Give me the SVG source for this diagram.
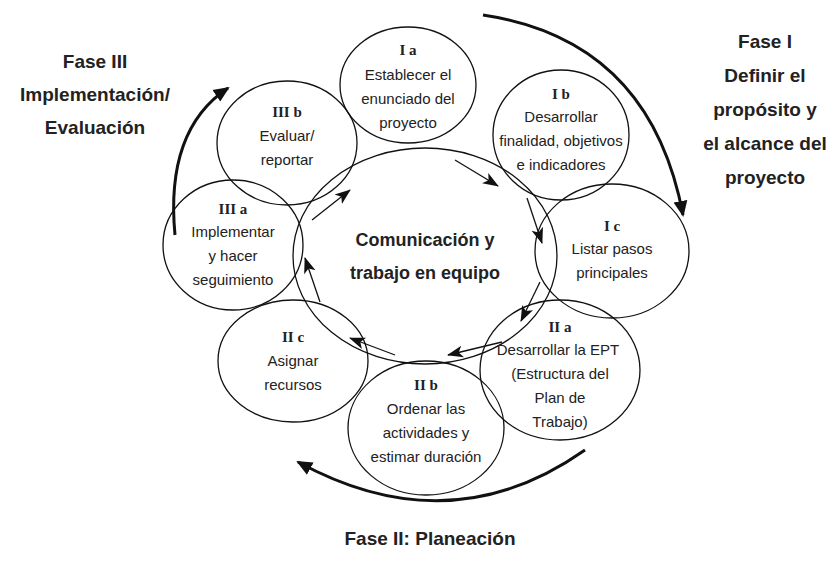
<svg xmlns="http://www.w3.org/2000/svg" width="839" height="562" viewBox="0 0 839 562">
<style>
.c{fill:none;stroke:#111;stroke-width:1.3}
.s{fill:none;stroke:#111;stroke-width:1.3}
.b{fill:none;stroke:#111;stroke-width:3}
.t{font-family:"Liberation Sans",Arial,sans-serif;font-size:15px;fill:#222;text-anchor:middle}
.r{font-family:"Liberation Serif","Times New Roman",serif;font-size:15px;font-weight:bold;fill:#222;text-anchor:middle}
.h{font-family:"Liberation Sans",Arial,sans-serif;font-size:19px;font-weight:bold;fill:#222;text-anchor:middle}
</style>
<defs>
<marker id="a" markerWidth="16" markerHeight="16" refX="15" refY="8" orient="auto" markerUnits="userSpaceOnUse" viewBox="0 0 16 16"><path d="M0,2 L16,8 L0,14 L4,8 z" fill="#111"/></marker>
<marker id="A" markerWidth="16" markerHeight="16" refX="14" refY="8" orient="auto" markerUnits="userSpaceOnUse" viewBox="0 0 16 16"><path d="M0,1 L16,8 L0,15 z" fill="#111"/></marker>
</defs>
<g id="center"><ellipse class="c" cx="425" cy="256" rx="132" ry="108"/>
<text class="h" x="425" y="246" style="font-size:18px">Comunicación y</text><text class="h" x="425" y="279" style="font-size:18px">trabajo en equipo</text></g>
<g id="Ia"><ellipse class="c" cx="408" cy="85" rx="68" ry="58"/><text class="r" x="408" y="55">I a</text><text class="t" x="408" y="80">Establecer el</text><text class="t" x="408" y="104">enunciado del</text><text class="t" x="408" y="128">proyecto</text></g>
<g id="Ib"><ellipse class="c" cx="561" cy="135" rx="68" ry="65"/><text class="r" x="561" y="99">I b</text><text class="t" x="561" y="122">Desarrollar</text><text class="t" x="561" y="146">finalidad, objetivos</text><text class="t" x="561" y="170">e indicadores</text></g>
<g id="Ic"><ellipse class="c" cx="612" cy="251" rx="77" ry="67"/><text class="r" x="612" y="231">I c</text><text class="t" x="612" y="254">Listar pasos</text><text class="t" x="612" y="278">principales</text></g>
<g id="IIa"><ellipse class="c" cx="560" cy="370" rx="80" ry="70"/><text class="r" x="560" y="332">II a</text><text class="t" x="558" y="355">Desarrollar la EPT</text><text class="t" x="560" y="379">(Estructura del</text><text class="t" x="560" y="403">Plan de</text><text class="t" x="560" y="427">Trabajo)</text></g>
<g id="IIb"><ellipse class="c" cx="426" cy="428" rx="78" ry="67"/><text class="r" x="426" y="390">II b</text><text class="t" x="426" y="414">Ordenar las</text><text class="t" x="426" y="438">actividades y</text><text class="t" x="426" y="462">estimar duración</text></g>
<g id="IIc"><ellipse class="c" cx="293" cy="361" rx="75" ry="61"/><text class="r" x="293" y="342">II c</text><text class="t" x="293" y="366">Asignar</text><text class="t" x="293" y="390">recursos</text></g>
<g id="IIIa"><ellipse class="c" cx="233" cy="245" rx="70" ry="65"/><text class="r" x="233" y="214">III a</text><text class="t" x="233" y="237">Implementar</text><text class="t" x="233" y="261">y hacer</text><text class="t" x="233" y="285">seguimiento</text></g>
<g id="IIIb"><ellipse class="c" cx="287" cy="143" rx="70" ry="62"/><text class="r" x="287" y="117">III b</text><text class="t" x="287" y="141">Evaluar/</text><text class="t" x="287" y="165">reportar</text></g>
<g id="phases">
<text class="h" x="765" y="48">Fase I</text><text class="h" x="765" y="82">Definir el</text><text class="h" x="765" y="116">propósito y</text><text class="h" x="765" y="150">el alcance del</text><text class="h" x="765" y="184">proyecto</text>
<text class="h" x="430" y="545">Fase II: Planeación</text>
<text class="h" x="95" y="68">Fase III</text><text class="h" x="95" y="101">Implementación/</text><text class="h" x="95" y="134">Evaluación</text>
</g>
<g id="connectors">
<line class="s" x1="455" y1="160" x2="498" y2="186" marker-end="url(#a)"/>
<line class="s" x1="527" y1="198" x2="542" y2="243" marker-end="url(#a)"/>
<line class="s" x1="540" y1="282" x2="521" y2="321" marker-end="url(#a)"/>
<line class="s" x1="502" y1="342" x2="448" y2="355" marker-end="url(#a)"/>
<line class="s" x1="395" y1="355" x2="350" y2="338" marker-end="url(#a)"/>
<line class="s" x1="320" y1="302" x2="305" y2="258" marker-end="url(#a)"/>
<line class="s" x1="312" y1="220" x2="350" y2="190" marker-end="url(#a)"/>
<path class="b" d="M483,15 Q650,40 683,215" marker-end="url(#A)"/>
<path class="b" d="M585,450 Q450,545 298,462" marker-end="url(#A)"/>
<path class="b" d="M175,235 Q165,130 228,88" marker-end="url(#A)"/>
</g>
</svg>
